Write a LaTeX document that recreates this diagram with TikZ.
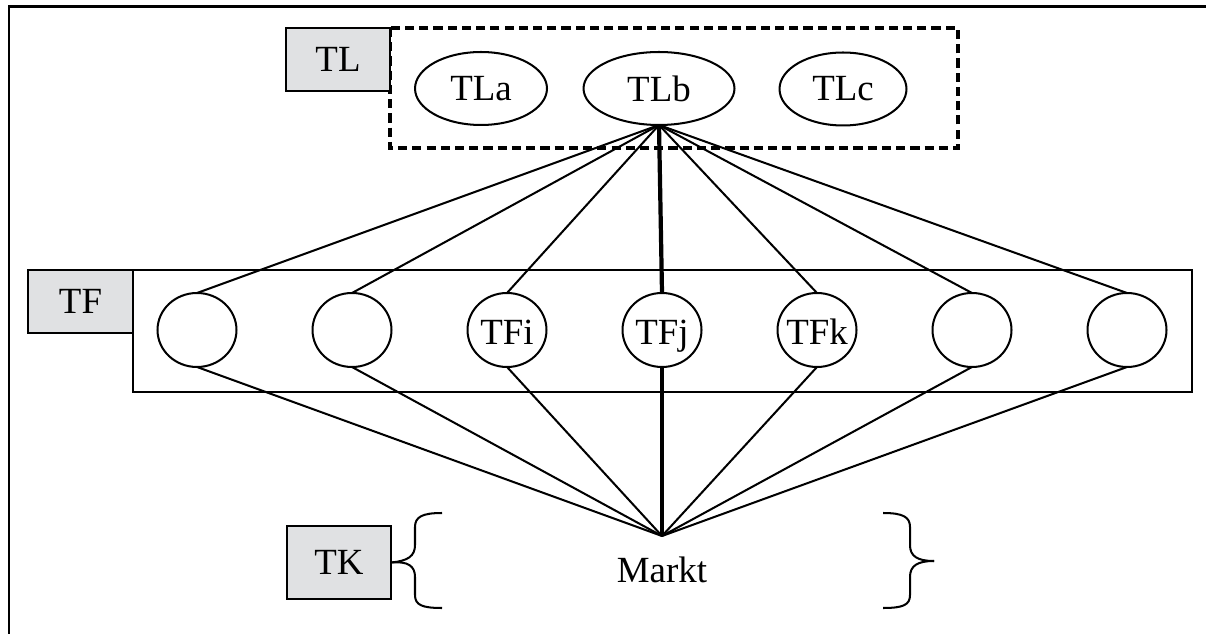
\documentclass[tikz,border=0pt]{standalone}
\usepackage{fontspec}
\setmainfont{Liberation Serif}
\usetikzlibrary{shapes.geometric}
\definecolor{boxgray}{RGB}{224,225,227}
\begin{document}
\begin{tikzpicture}[x=0.02cm,y=-0.02cm,
  every node/.style={font=\fontsize{21}{25}\selectfont, inner sep=0pt, outer sep=0pt},
  conn/.style={line width=1.15pt},
  boldconn/.style={line width=2.4pt},
  graybox/.style={draw, line width=1.3pt, fill=boxgray, minimum width=2.08cm, minimum height=1.26cm},
  tlell/.style={draw, ellipse, line width=1.15pt, minimum height=1.46cm},
  tfcirc/.style={draw, ellipse, line width=1.15pt, minimum width=1.58cm, minimum height=1.48cm},
  tftext/.style={anchor=base},
  dashbox/.style={line width=1.9pt, dash pattern=on 5.2pt off 2.9pt},
  bracestyle/.style={line width=1.15pt},
  frame/.style={line width=1.7pt}
]
\useasboundingbox (0,0) rectangle (1206,634);

% outer frame (cut)
\draw[frame] (9,634) -- (9,7) -- (1206,7);

% TL layer
\draw[dashbox] (390,28) rectangle (958,148);
\node[graybox] (tl) at (338,59.5) {TL};
\node[tlell, minimum width=2.64cm] (tla) at (481,88.5) {TLa};
\node[tlell, minimum width=3.02cm] (tlb) at (659,88.5) {TLb};
\node[tlell, minimum width=2.54cm] (tlc) at (843,89) {TLc};

% TF layer
\draw[line width=1.3pt] (133,270) rectangle (1192,392);
\node[graybox, minimum width=2.1cm] (tf) at (80.5,301.5) {TF};
\node[tfcirc] (f1) at (197,330) {};
\node[tfcirc] (f2) at (352,330) {};
\node[tfcirc] (f3) at (507,330) {};
\node[tfcirc] (f4) at (662,330) {};
\node[tfcirc] (f5) at (817,330) {};
\node[tfcirc] (f6) at (972,330) {};
\node[tfcirc] (f7) at (1127,330) {};
\node[tftext] (f3t) at (507,345) {TFi};
\node[tftext] (f4t) at (662,345) {TFj};
\node[tftext] (f5t) at (817,345) {TFk};

% TK layer
\node[graybox, minimum height=1.46cm] (tk) at (339,562.5) {TK};
\coordinate (m) at (662,536);
\node[anchor=base] (markt) at (662,582) {Markt};

% connectors TL -> TF
\foreach \f in {f1,f2,f3,f5,f6,f7}{\draw[conn] (tlb.south) -- (\f.north);}
\draw[boldconn] (tlb.south) -- (f4.north);

% connectors TF -> market
\foreach \f in {f1,f2,f3,f5,f6,f7}{\draw[conn] (\f.south) -- (m);}
\draw[boldconn] (f4.south) -- (m);

% braces
\draw[bracestyle] (tk.east) .. controls (408,561) and (415,556) .. (415,545) -- (415,527) .. controls (415,517) and (422,513) .. (442,513);
\draw[bracestyle] (tk.east) .. controls (408,561) and (415,566) .. (415,577) -- (415,595) .. controls (415,605) and (422,608) .. (442,608);
\coordinate (rtip) at (934,561);
\draw[bracestyle] (rtip) .. controls (917,561) and (910,556) .. (910,545) -- (910,527) .. controls (910,517) and (903,513) .. (883,513);
\draw[bracestyle] (rtip) .. controls (917,561) and (910,566) .. (910,577) -- (910,595) .. controls (910,605) and (903,608) .. (883,608);
\end{tikzpicture}
\end{document}
